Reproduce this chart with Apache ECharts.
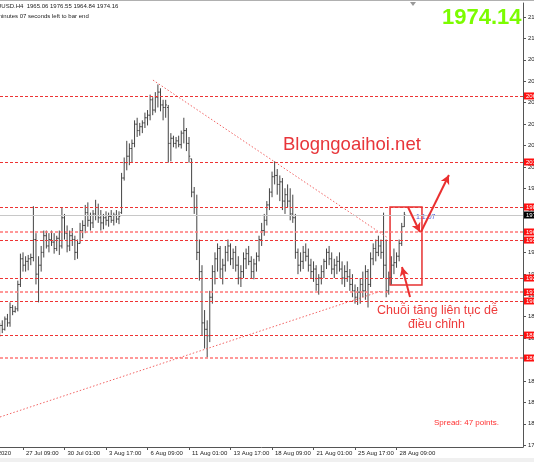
<!DOCTYPE html>
<html><head><meta charset="utf-8">
<script src="https://cdn.jsdelivr.net/npm/echarts@6/dist/echarts.min.js"></script>
<style>html,body{margin:0;padding:0;background:#fff;overflow:hidden}#c{width:534px;height:462px}</style>
</head><body><div id="c"></div>
<script>
// bar index (0 = 27 Jul 09:00, H4 bars, 6 per trading day)
const firstIndex = -9;
const opens  = [1884,1888,1885,1893,1890,1902,1899,1901,1920,
  1940,1935,1938,1940,1941,1955,1928,1935,1945,1958,
  1950,1955,1953,1948,1956,1950,1972,1960,1950,1958,
  1955,1945,1952,1962,1966,1976,1970,1968,1975,1980,
  1972,1968,1972,1970,1973,1970,1974,1971,1976,2003,
  2015,2020,2026,2030,2045,2040,2043,2046,2050,2052,
  2064,2056,2066,2070,2060,2058,2058,2030,2034,2030,
  2032,2029,2038,2040,2030,2018,1992,1980,1945,1930,
  1890,1885,1880,1910,1930,1940,1948,1932,1935,1945,
  1950,1940,1945,1935,1925,1930,1940,1944,1938,1930,
  1936,1942,1955,1962,1970,1982,1992,2004,2005,1998,
  2000,1985,1990,1985,1975,1972,1945,1935,1938,1945,
  1942,1935,1930,1932,1920,1925,1930,1938,1945,1940,
  1932,1935,1938,1932,1925,1930,1926,1920,
  1915,1910,1914,1920,1915,1930,1920,1940,1948,1945,1950,1945,1935,1915,1925,1935,1937,1942,1952,1965.06];
const highs  = [1890,1892,1895,1897,1906,1904,1903,1923,1944,
  1945,1942,1943,1944,1981,1960,1942,1950,1962,1962,
  1960,1962,1960,1958,1962,1980,1975,1966,1962,1964,
  1958,1955,1968,1970,1982,1984,1976,1978,1986,1983,
  1978,1975,1977,1976,1978,1976,1978,1977,2007,2019,
  2032,2030,2033,2048,2050,2046,2048,2054,2056,2068,
  2066,2070,2076,2073,2064,2064,2060,2038,2036,2035,
  2036,2040,2050,2042,2035,2018,1996,1990,1955,1935,
  1900,1892,1915,1935,1945,1952,1950,1940,1950,1955,
  1952,1948,1950,1942,1935,1945,1948,1950,1942,1940,
  1945,1958,1968,1975,1985,1995,2008,2016,2010,2005,
  2003,1995,1998,1995,1990,1975,1948,1945,1950,1952,
  1948,1940,1938,1935,1928,1935,1940,1948,1950,1945,
  1940,1942,1945,1938,1935,1938,1932,1928,
  1920,1918,1925,1930,1935,1932,1945,1952,1955,1958,1955,1976,1955,1930,1942,1948,1945,1955,1968,1976.55];
const lows   = [1879,1882,1884,1887,1887,1896,1898,1899,1918,
  1930,1930,1931,1935,1938,1920,1906,1930,1941,1948,
  1945,1950,1944,1946,1943,1948,1955,1945,1946,1950,
  1939,1940,1952,1956,1960,1965,1962,1964,1970,1968,
  1962,1963,1966,1965,1968,1966,1968,1967,1975,2001,
  2009,2013,2015,2027,2035,2036,2038,2042,2044,2048,
  2052,2054,2058,2055,2048,2050,2015,2016,2027,2026,
  2027,2026,2030,2024,2015,1988,1975,1939,1923,1880,
  1870,1863,1875,1905,1920,1930,1925,1920,1930,1938,
  1935,1932,1930,1920,1918,1925,1932,1935,1925,1924,
  1930,1938,1950,1958,1966,1978,1988,1998,1990,1985,
  1978,1975,1980,1970,1968,1940,1928,1930,1932,1938,
  1930,1925,1922,1915,1912,1920,1925,1932,1935,1928,
  1925,1928,1930,1920,1918,1922,1915,1910,
  1905,1904,1905,1910,1908,1902,1918,1935,1938,1942,1940,1925,1910,1912,1920,1928,1933,1938,1950,1964.84];
const closes = [1888,1885,1893,1890,1902,1899,1901,1920,1940,
  1935,1938,1940,1941,1955,1928,1935,1945,1958,1950,
  1955,1953,1948,1956,1950,1972,1960,1950,1958,1955,
  1945,1952,1962,1966,1976,1970,1968,1975,1980,1972,
  1968,1972,1970,1973,1970,1974,1971,1973,2003,2015,
  2020,2026,2030,2045,2040,2043,2046,2050,2052,2064,
  2056,2066,2070,2060,2058,2060,2030,2034,2030,2032,
  2029,2038,2040,2030,2020,1992,1980,1945,1930,1890,
  1885,1880,1910,1930,1940,1948,1932,1935,1945,1950,
  1940,1945,1935,1925,1930,1940,1944,1938,1930,1936,
  1942,1955,1962,1970,1982,1992,2004,2005,1998,2000,
  1985,1990,1985,1975,1972,1945,1935,1938,1945,1942,
  1935,1930,1932,1920,1925,1930,1938,1945,1940,1932,
  1935,1938,1932,1925,1930,1926,1920,1915,
  1910,1914,1920,1915,1930,1920,1940,1948,1945,1950,1945,1935,1915,1925,1935,1937,1942,1952,1965,1974.16];

const timeTickIdx = [0,16,32,48,64,80,96,112,128,144];
const timeLabels  = ['27 Jul 09:00','30 Jul 01:00','3 Aug 17:00','6 Aug 09:00','11 Aug 01:00','13 Aug 17:00','18 Aug 09:00','21 Aug 01:00','25 Aug 17:00','28 Aug 09:00'];
const firstDateLabel = '22 Jul 2020';
const priceTicks = [2128.6,2111.9,2095.2,2078.5,2061.8,2045.1,2028.4,2011.7,1995.0,1978.3,1961.6,1944.9,1928.2,1911.5,1894.8,1878.1,1861.4,1844.7,1828.0,1811.3,1794.6];
const levelPrices = [2067.0,2015.5,1980.4,1954.6,1925.0,1907.1,1880.5];
const softLevelPrices = [1960.9,1914.1,1862.6];
const bidPrice = 1974.14;
const trendDown = [[50.1,2079.4],[140.7,1956.2]];
const trendUp   = [[-8.87,1816.6],[137.6,1914.5]];
const boxArea   = [[141.5,1980.4],[153.8,1919.5]];
const arrows = [
  [[149.2,1910.2],[146.1,1933.6]],
  [[148.4,1980.4],[153.0,1960.9]],
  [[153.4,1960.9],[164.2,2005.3]]
];

const bars = opens.map((o,k)=>[firstIndex+k,o,highs[k],lows[k],closes[k]]);
const FONT = 'Liberation Sans, Arial, DejaVu Sans, sans-serif';
const RED = '#ee3333';

const chart = echarts.init(document.getElementById('c'), null, {renderer:'canvas'});
chart.setOption({
  animation:false,
  backgroundColor:'#ffffff',
  grid:{left:0,right:11,top:3,bottom:15,containLabel:false,outerBoundsMode:'none'},
  xAxis:{type:'value',min:-8.87,max:192.75,
    axisLine:{show:true,onZero:false,lineStyle:{color:'#555',width:1}},
    axisTick:{show:true,length:3,lineStyle:{color:'#555'},customValues:timeTickIdx},
    axisLabel:{show:true,customValues:timeTickIdx,fontSize:6,fontFamily:FONT,color:'#222',align:'left',margin:3,padding:[0,0,0,3],
      formatter:v=>{const k=timeTickIdx.indexOf(Math.round(v));return k>=0?timeLabels[k]:'';}},
    splitLine:{show:false}},
  yAxis:{type:'value',position:'right',min:1793.2,max:2139.5,scale:true,
    axisLine:{show:true,onZero:false,lineStyle:{color:'#555',width:1}},
    axisTick:{show:true,length:3,lineStyle:{color:'#555'},customValues:priceTicks},
    axisLabel:{show:true,customValues:priceTicks,fontSize:6,fontFamily:FONT,color:'#222',margin:5,
      formatter:v=>v.toFixed(2)},
    splitLine:{show:false}},
  graphic:[
    {type:'rect',shape:{x:0,y:0,width:534,height:1},style:{fill:'#b0b0b0'},silent:true},
    {type:'rect',shape:{x:0,y:458,width:534,height:4},style:{fill:'#f0f0f0'},silent:true},
    {type:'text',left:-11,top:3,style:{text:'XAUUSD.H4  1965.06 1976.55 1964.84 1974.16',font:'6px '+FONT,fill:'#222'}},
    {type:'text',left:-3,top:13,style:{text:'minutes 07 seconds left to bar end',font:'6px '+FONT,fill:'#222'}},
    {type:'text',left:442,top:7,style:{text:'1974.14',font:'bold 22px '+FONT,fill:'#7cfc00'}},
    {type:'text',left:283,top:135,style:{text:'Blogngoaihoi.net',font:'18.5px '+FONT,fill:'#e8353a'}},
    {type:'text',left:377,top:304,style:{text:'Chuỗi tăng liên tục dễ',font:'12.5px '+FONT,fill:'#ee3b3b'}},
    {type:'text',left:408,top:318,style:{text:'điều chỉnh',font:'12.5px '+FONT,fill:'#ee3b3b'}},
    {type:'text',left:434,top:419,style:{text:'Spread: 47 points.',font:'8px '+FONT,fill:'#ff3030'}},
    {type:'text',left:416,top:214,style:{text:'1:1:07',font:'7px '+FONT,fill:'#4a5ad8'}},
    {type:'text',left:-20,top:450,style:{text:firstDateLabel,font:'6px '+FONT,fill:'#222'}},
    {type:'polygon',shape:{points:[[410,2],[416,2],[413,6]]},style:{fill:'#999'}}
  ],
  series:[
    {type:'custom',name:'bars',clip:true,data:bars,
     renderItem:(params,api)=>{
       const x=api.value(0);
       const o=api.coord([x,api.value(1)]),h=api.coord([x,api.value(2)]),l=api.coord([x,api.value(3)]),c=api.coord([x,api.value(4)]);
       const px=h[0], col='#444';
       return {type:'group',children:[
         {type:'line',shape:{x1:px,y1:h[1],x2:px,y2:l[1]},style:{stroke:col,lineWidth:1}},
         {type:'line',shape:{x1:px-1.2,y1:o[1],x2:px,y2:o[1]},style:{stroke:col,lineWidth:1}},
         {type:'line',shape:{x1:px,y1:c[1],x2:px+1.2,y2:c[1]},style:{stroke:col,lineWidth:1}}
       ]};
     },
     markLine:{silent:true,symbol:['none','none'],
       data:[
         ...levelPrices.map(p=>({yAxis:p,lineStyle:{color:RED,type:[3,2],width:1},
            label:{show:true,position:'end',distance:1,formatter:p.toFixed(2),fontSize:6,fontFamily:FONT,color:'#fff',backgroundColor:'#ff1010',padding:[1,2,0,2]}})),
         ...softLevelPrices.map(p=>({yAxis:p,lineStyle:{color:'#f77',type:[3,2],width:1.6},
            label:{show:true,position:'end',distance:1,formatter:p.toFixed(2),fontSize:6,fontFamily:FONT,color:'#fff',backgroundColor:'#ff1010',padding:[1,2,0,2]}})),
         {yAxis:bidPrice,lineStyle:{color:'#c8c8c8',type:'solid',width:1},
            label:{show:true,position:'end',distance:1,formatter:bidPrice.toFixed(2),fontSize:6,fontFamily:FONT,color:'#fff',backgroundColor:'#000',padding:[1,2,0,2]}}
       ]},
     markArea:{silent:true,itemStyle:{color:'rgba(0,0,0,0)',borderColor:'#e63232',borderWidth:1.5},
       data:[[{coord:boxArea[0]},{coord:boxArea[1]}]]}
    },
    {type:'line',data:trendDown,symbol:'none',silent:true,lineStyle:{color:'#f26464',type:[1.5,2],width:1}},
    {type:'line',data:trendUp,symbol:'none',silent:true,lineStyle:{color:'#f26464',type:[1.5,2],width:1},
     markLine:{silent:true,symbol:['none','arrow'],symbolSize:[7,9],label:{show:false},
       lineStyle:{color:'#ea3030',type:'solid',width:2},
       data:arrows.map(a=>[{coord:a[0]},{coord:a[1]}])}}
  ]
});
</script></body></html>
